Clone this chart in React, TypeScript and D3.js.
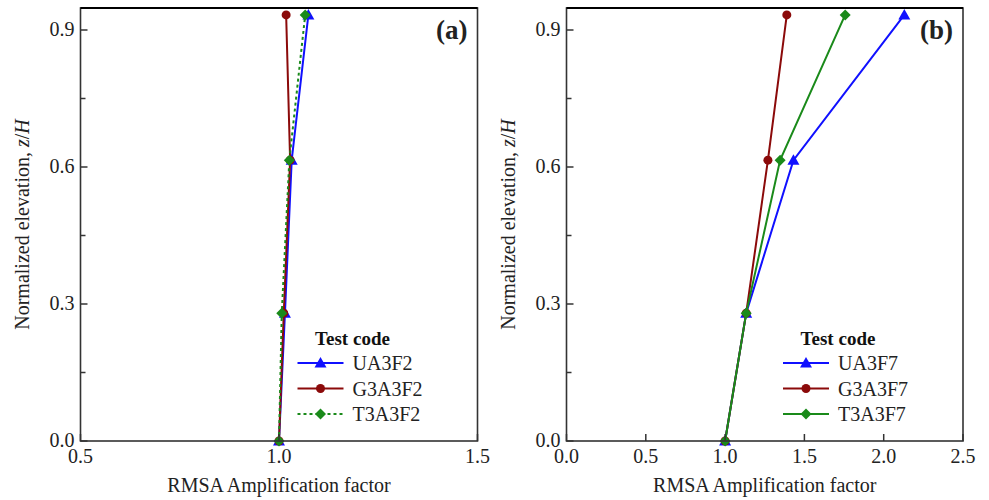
import React from "react";
import * as d3 from "d3";

const elevations = [0.0, 0.28, 0.615, 0.933];

const seriesNamesA = ["UA3F2", "G3A3F2", "T3A3F2"];
const uaA = [1.0, 1.015, 1.032, 1.074];
const gA = [1.0, 1.012, 1.028, 1.018];
const tA = [1.0, 1.007, 1.026, 1.066];

const seriesNamesB = ["UA3F7", "G3A3F7", "T3A3F7"];
const uaB = [1.0, 1.133, 1.431, 2.13];
const gB = [1.0, 1.133, 1.27, 1.389];
const tB = [1.0, 1.133, 1.347, 1.757];

const yTicks = [0.0, 0.3, 0.6, 0.9];
const yMinorTicks = [0.15, 0.45, 0.75];
const xTicksA = [0.5, 1.0, 1.5];
const xTicksB = [0.0, 0.5, 1.0, 1.5, 2.0, 2.5];

const colors = ["#1010ff", "#8b0a0a", "#1a8a1a"];
const markers = ["triangle", "circle", "diamond"];

const FONT = "Liberation Serif, Tinos, Times New Roman, DejaVu Serif, serif";
const H = 500;
const top = 8;
const bottom = 441;

function Marker({ type, x, y, color }: { type: string; x: number; y: number; color: string }) {
  if (type === "circle") return <circle cx={x} cy={y} r={4.5} fill={color} />;
  if (type === "triangle") {
    const s = 6;
    return <path d={`M${x},${y - s}L${x + s},${y + s * 0.75}L${x - s},${y + s * 0.75}Z`} fill={color} />;
  }
  const s = 5.5;
  return <path d={`M${x},${y - s}L${x + s},${y}L${x},${y + s}L${x - s},${y}Z`} fill={color} />;
}

function Panel({
  left, right, xDomain, xTicks, series, names, dashed, label,
}: {
  left: number; right: number; xDomain: [number, number]; xTicks: number[];
  series: number[][]; names: string[]; dashed: boolean[]; label: string;
}) {
  const x = d3.scaleLinear().domain(xDomain).range([left, right]);
  const y = d3.scaleLinear().domain([0, 0.9]).range([bottom, bottom - 411]);
  const line = d3.line<[number, number]>().x((d) => x(d[0])).y((d) => y(d[1]));
  const legX = right - 180;
  return (
    <g style={{ fontFamily: FONT }}>
      {series.map((vals, i) => (
        <g key={i}>
          <path
            d={line(vals.map((v, j) => [v, elevations[j]] as [number, number])) || ""}
            fill="none"
            stroke={colors[i]}
            strokeWidth={2}
            strokeDasharray={dashed[i] ? "3,3" : undefined}
          />
          {vals.map((v, j) => (
            <Marker key={j} type={markers[i]} x={x(v)} y={y(elevations[j])} color={colors[i]} />
          ))}
        </g>
      ))}
      <rect x={left} y={top} width={right - left} height={bottom - top} fill="none" stroke="#333" strokeWidth={1.6} />
      <line x1={left} x2={right} y1={top} y2={top} stroke="#000" strokeWidth={2} />
      {yTicks.map((t) => (
        <g key={t}>
          <line x1={left} x2={left + 7} y1={y(t)} y2={y(t)} stroke="#333" strokeWidth={1.5} />
          <text x={left - 6} y={y(t) + 6} textAnchor="end" fontSize={20} fill="#222">
            {t.toFixed(1)}
          </text>
        </g>
      ))}
      {yMinorTicks.map((t) => (
        <line key={t} x1={left} x2={left + 5} y1={y(t)} y2={y(t)} stroke="#333" strokeWidth={1.5} />
      ))}
      {xTicks.map((t) => (
        <g key={t}>
          <line x1={x(t)} x2={x(t)} y1={bottom} y2={bottom - 7} stroke="#333" strokeWidth={1.5} />
          <text x={x(t)} y={bottom + 22} textAnchor="middle" fontSize={20} fill="#222">
            {t.toFixed(1)}
          </text>
        </g>
      ))}
      <text x={(left + right) / 2} y={bottom + 51} textAnchor="middle" fontSize={20} fill="#222">
        RMSA Amplification factor
      </text>
      <text
        transform={`translate(${left - 52},${(top + bottom) / 2}) rotate(-90)`}
        textAnchor="middle"
        fontSize={20}
        fill="#222"
      >
        Normalized elevation, <tspan fontStyle="italic">z</tspan>/<tspan fontStyle="italic">H</tspan>
      </text>
      <text x={right - 10} y={39} textAnchor="end" fontSize={27} fontWeight="bold" fill="#222">
        {label}
      </text>
      <text x={legX + 55} y={345} textAnchor="middle" fontSize={19} fontWeight="bold" fill="#111">
        Test code
      </text>
      {names.map((n, i) => {
        const ly = 363 + i * 25.5;
        return (
          <g key={n}>
            <line x1={legX} x2={legX + 46} y1={ly} y2={ly} stroke={colors[i]} strokeWidth={2}
              strokeDasharray={dashed[i] ? "3,3" : undefined} />
            <Marker type={markers[i]} x={legX + 23} y={ly} color={colors[i]} />
            <text x={legX + 55} y={ly + 7} fontSize={20} fill="#222">{n}</text>
          </g>
        );
      })}
    </g>
  );
}

export default function App() {
  return (
    <svg width={989} height={H} style={{ position: "absolute", left: 0, top: 0, background: "#fff" }}>
      <rect width={989} height={H} fill="#fff" />
      <Panel left={80.5} right={477.5} xDomain={[0.5, 1.5]} xTicks={xTicksA}
        series={[uaA, gA, tA]} names={seriesNamesA} dashed={[false, false, true]} label="(a)" />
      <Panel left={566.5} right={963} xDomain={[0, 2.5]} xTicks={xTicksB}
        series={[uaB, gB, tB]} names={seriesNamesB} dashed={[false, false, false]} label="(b)" />
    </svg>
  );
}
